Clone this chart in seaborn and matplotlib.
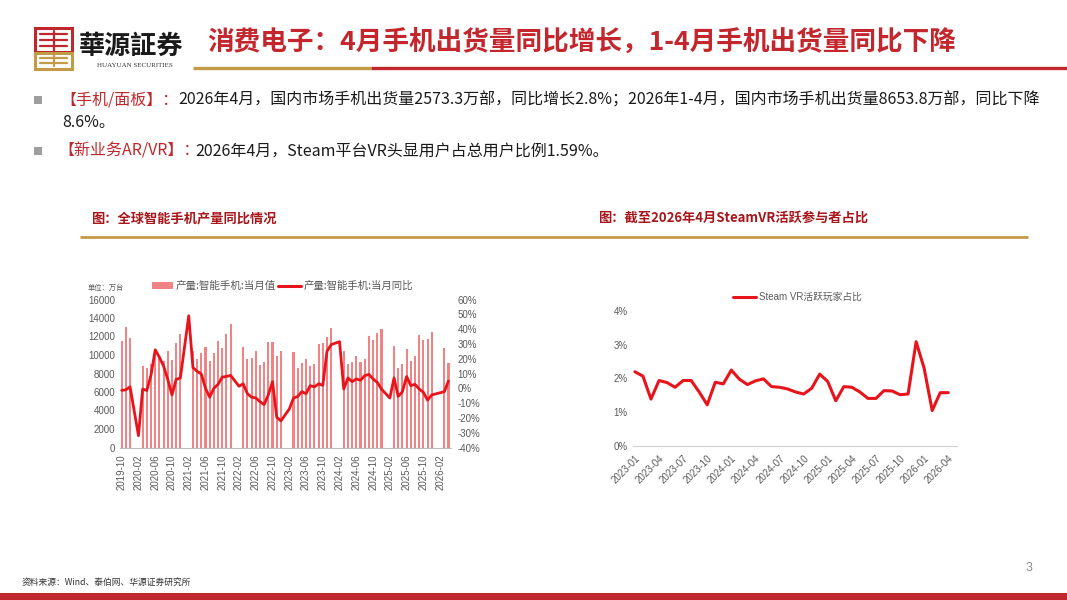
import numpy as np
import pandas as pd
import seaborn as sns
import matplotlib.pyplot as plt
from matplotlib.patches import Rectangle

# ---- data: smartphone output (10k units) and YoY, 2019-10 .. 2026-04 (Jan/Feb bars merged -> NaN)
months = [p.strftime('%Y-%m') for p in pd.period_range('2019-10', '2026-04', freq='M')]
nan = np.nan
output_val = [11500, 13000, 11800, nan, nan, 8800, 8600, 9000, 10500, 9800, 9300, 10400, 9500, 11300, 12300,
              nan, nan, 10400, 9600, 10200, 10900, 9400, 10200, 11500, 10800, 12300, 13400,
              nan, nan, 10900, 9600, 9700, 10400, 8900, 9200, 11400, 11400, 9900, 10400,
              nan, nan, 10300, 8600, 9100, 9600, 8800, 9000, 11200, 11300, 12000, 12900,
              nan, nan, 10400, 9000, 9200, 9900, 9200, 9600, 12100, 11600, 12400, 12800,
              nan, nan, 11000, 8600, 9000, 10700, 9300, 9900, 12200, 11600, 11700, 12500,
              nan, nan, 10800, 9100]
output_yoy = [-1.4, -1.0, 1.0, nan, -32.0, -0.5, -1.5, 9.0, 26.0, 21.0, 15.0, 6.0, -4.5, 6.0, 7.0,
              nan, 49.0, 14.0, 11.5, 9.7, 0.0, -6.0, 0.0, 2.7, 7.6, 8.0, 8.7,
              nan, 1.4, 3.0, -3.6, -6.0, -6.5, -9.0, -11.0, -4.3, 4.5, -19.5, -22.0,
              nan, -14.0, -6.6, -5.5, -2.3, -3.6, 1.8, 1.0, 3.0, 2.0, 25.0, 29.5,
              nan, 31.5, -0.5, 7.0, 4.5, 6.3, 5.4, 8.5, 9.4, 6.3, 4.0, -0.5,
              nan, -6.6, 7.0, -5.5, -2.3, 8.0, 1.8, 2.7, -0.5, -2.7, -8.0, -4.5,
              nan, -3.0, -2.3, 5.0]

# ---- data: Steam VR active share, 2023-01 .. 2026-04
vr_months = [p.strftime('%Y-%m') for p in pd.period_range('2023-01', '2026-04', freq='M')]
vr_share = [2.20, 2.07, 1.39, 1.94, 1.88, 1.74, 1.94, 1.94, 1.60, 1.22, 1.89, 1.84,
            2.25, 1.98, 1.82, 1.93, 1.99, 1.76, 1.74, 1.69, 1.60, 1.54, 1.71, 2.13,
            1.91, 1.34, 1.76, 1.74, 1.60, 1.41, 1.41, 1.64, 1.63, 1.52, 1.54, 3.09,
            2.30, 1.05, 1.58, 1.58]

sns.set_theme(style="white")
plt.rcParams['font.family'] = ['Liberation Sans', 'Noto Sans CJK SC', 'DejaVu Sans']
CJK = ['Noto Sans CJK SC', 'DejaVu Sans']

W, H = 1067, 600
RED = '#C0282D'
GOLD = '#C39A45'
TITLE_RED = '#C4262E'
SUB_RED = '#A8151B'
BAR = '#F08484'
LINE = '#E8131B'
GREY = '#595959'

fig = plt.figure(figsize=(W / 100, H / 100), dpi=100)
bg = fig.add_axes([0, 0, 1, 1])
bg.set_xlim(0, W)
bg.set_ylim(H, 0)
bg.axis('off')


def px_axes(x0, y0, x1, y1):
    return fig.add_axes([x0 / W, 1 - y1 / H, (x1 - x0) / W, (y1 - y0) / H])


# ---- header
bg.add_patch(Rectangle((35, 28), 37, 24, fill=False, ec=RED, lw=2.2))
for yy in (34, 40, 46):
    bg.plot([40, 67], [yy, yy], color=RED, lw=1.6)
bg.plot([53.5, 53.5], [31, 52], color=RED, lw=1.6)
bg.add_patch(Rectangle((35, 53), 37, 16, fill=False, ec=GOLD, lw=2.2))
for yy in (58, 63):
    bg.plot([40, 67], [yy, yy], color=GOLD, lw=1.6)
bg.plot([53.5, 53.5], [53, 66], color=GOLD, lw=1.6)
bg.text(79, 46, '華源証券', fontsize=18.8, fontweight='bold', family=['Noto Sans CJK TC'],
        va='center', ha='left', color='#1a1a1a')
bg.text(135, 65.5, 'HUAYUAN SECURITIES', fontsize=5, family=['Liberation Serif'],
        va='center', ha='center', color='#333333')
bg.text(207, 42, '消费电子：4月手机出货量同比增长，1-4月手机出货量同比下降', fontsize=19.2,
        fontweight='bold', family=CJK, va='center', ha='left', color=TITLE_RED)
bg.plot([193, 371], [68, 68], color=GOLD, lw=2.4, solid_capstyle='butt')
bg.plot([371, 1067], [68, 68], color=RED, lw=2.4, solid_capstyle='butt')

# ---- bullets
BODY = 11.5
for yy in (100, 151):
    bg.add_patch(Rectangle((34, yy - 4), 8, 8, color='#9E9E9E', lw=0))
bg.text(60, 100, '【手机/面板】：', fontsize=BODY, family=CJK, va='center', color=RED)
bg.text(178, 100, '2026年4月，国内市场手机出货量2573.3万部，同比增长2.8%；2026年1-4月，国内市场手机出货量8653.8万部，同比下降',
        fontsize=BODY, family=CJK, va='center', color='#1a1a1a')
bg.text(62, 123, '8.6%。', fontsize=BODY, family=CJK, va='center', color='#1a1a1a')
bg.text(58, 151, '【新业务AR/VR】：', fontsize=BODY, family=CJK, va='center', color=RED)
bg.text(195, 151, '2026年4月，Steam平台VR头显用户占总用户比例1.59%。', fontsize=BODY,
        family=CJK, va='center', color='#1a1a1a')

# ---- chart captions
bg.text(91, 218, '图：全球智能手机产量同比情况', fontsize=9.5, fontweight='bold', family=CJK,
        va='center', color=SUB_RED)
bg.text(598, 218, '图：截至2026年4月SteamVR活跃参与者占比', fontsize=9.5, fontweight='bold',
        family=CJK, va='center', color=SUB_RED)
bg.plot([80, 1028], [237, 237], color=GOLD, lw=2, solid_capstyle='butt')

# ---- left chart
df = pd.DataFrame({'month': months, 'val': output_val, 'yoy': output_yoy})
df['pos'] = np.arange(len(df))
bars = df.dropna(subset=['val'])
line = df.dropna(subset=['yoy'])

ax = px_axes(119.6, 299.5, 450.6, 447.5)
sns.barplot(data=bars, x='pos', y='val', native_scale=True, width=0.5, color=BAR,
            saturation=1, errorbar=None, linewidth=0, ax=ax)
ax.set_xlim(-0.5, len(df) - 0.5)
ax.set_ylim(0, 16000)
ax.set_yticks(range(0, 16001, 2000))
ax.set_xticks(df['pos'][::4])
ax.set_xticklabels(df['month'][::4], rotation=90)
ax.tick_params(axis='both', labelsize=7, colors=GREY, length=0, pad=3)
ax.tick_params(axis='x', length=3, color='#BFBFBF', pad=2)
ax.set_xlabel('')
ax.set_ylabel('')
for s in ['top', 'right', 'left']:
    ax.spines[s].set_visible(False)
ax.spines['bottom'].set_color('#BFBFBF')
ax.spines['bottom'].set_linewidth(0.8)

ax2 = ax.twinx()
sns.lineplot(data=line, x='pos', y='yoy', color=LINE, linewidth=2, ax=ax2)
ax2.set_ylim(-40, 60)
ax2.set_yticks(range(-40, 61, 10))
ax2.set_yticklabels([f'{v}%' for v in range(-40, 61, 10)])
ax2.tick_params(axis='y', labelsize=7, colors=GREY, length=0, pad=5)
ax2.set_ylabel('')
ax2.set_xlim(-0.5, len(df) - 0.5)
for s in ax2.spines.values():
    s.set_visible(False)

bg.text(88, 288, '单位：万台', fontsize=5.2, family=CJK, va='center', color=GREY)
bg.add_patch(Rectangle((152, 282), 21, 7, color=BAR, lw=0))
bg.text(176, 285.5, '产量:智能手机:当月值', fontsize=7.6, family=CJK, va='center', color=GREY)
bg.plot([278, 301], [285.5, 285.5], color=LINE, lw=2.2)
bg.text(304, 285.5, '产量:智能手机:当月同比', fontsize=7.5, family=CJK, va='center', color=GREY)

# ---- right chart
vr = pd.DataFrame({'month': vr_months, 'share': np.array(vr_share) / 100})
vr['pos'] = np.arange(len(vr))
bx = px_axes(633.3, 311, 956.7, 446)
sns.lineplot(data=vr, x='pos', y='share', color=LINE, linewidth=2.2, ax=bx)
bx.set_xlim(-0.2, len(vr) + 0.05)
bx.set_ylim(0, 0.04)
bx.set_yticks([0, 0.01, 0.02, 0.03, 0.04])
bx.set_yticklabels(['0%', '1%', '2%', '3%', '4%'])
bx.set_xticks(vr['pos'][::3])
bx.set_xticklabels(vr['month'][::3], rotation=45, ha='right', rotation_mode='anchor')
bx.tick_params(axis='both', labelsize=7, colors=GREY, length=0, pad=4)
bx.tick_params(axis='x', length=3, color='#D0D0D0', pad=2)
bx.set_xlabel('')
bx.set_ylabel('')
for s in ['top', 'right', 'left']:
    bx.spines[s].set_visible(False)
bx.spines['bottom'].set_color('#D0D0D0')
bx.spines['bottom'].set_linewidth(0.8)

bg.plot([733, 756], [297, 297], color=LINE, lw=2.2)
bg.text(759, 297, 'Steam VR活跃玩家占比', fontsize=7, family=['Liberation Sans', 'Noto Sans CJK SC'],
        va='center', color=GREY)

# ---- footer
bg.text(1026, 568, '3', fontsize=9, va='center', color='#8C8C8C')
bg.text(22, 582, '资料来源：Wind、泰伯网、华源证券研究所', fontsize=6.3, family=CJK, va='center',
        color='#333333')
bg.add_patch(Rectangle((0, 593), W, 7, color=RED, lw=0))

fig.savefig('out.png', dpi=100)
